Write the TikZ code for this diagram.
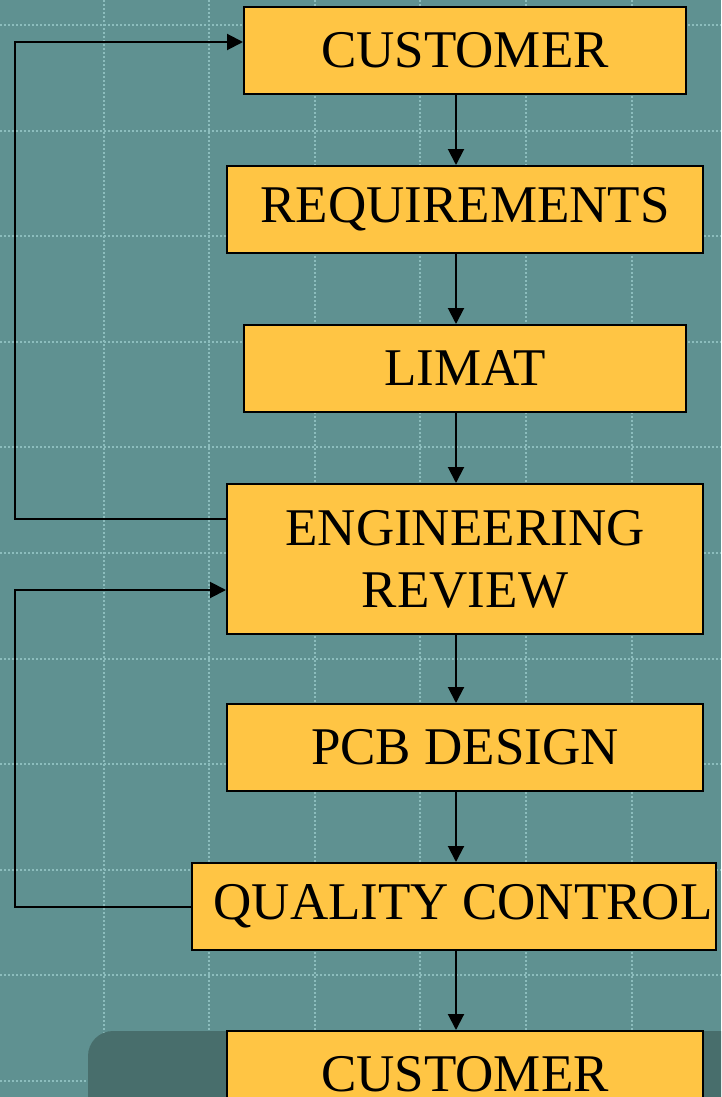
\documentclass[tikz,border=0pt]{standalone}
\usepackage{fontspec}
\setmainfont{Liberation Serif}
\usetikzlibrary{arrows.meta}
\definecolor{bgc}{HTML}{5F9191}
\definecolor{darkc}{HTML}{486E6C}
\definecolor{gridc}{HTML}{8CBDBD}
\definecolor{boxc}{HTML}{FFC544}
\tikzset{
  box/.style={draw=black, line width=2pt, fill=boxc, inner sep=0pt, align=center,
    font=\fontsize{53}{62}\selectfont},
  arr/.style={draw=black, line width=2pt, -{Triangle[length=16pt,width=16pt]}},
  gridline/.style={draw=gridc, line width=1.5pt, dash pattern=on 2pt off 2pt},
}
\begin{document}
\begin{tikzpicture}[x=1pt,y=-1pt]
\useasboundingbox (0,0) rectangle (721,1097);
\begin{scope}
\clip (0,0) rectangle (721,1097);
\fill[bgc] (0,0) rectangle (721,1097);
\foreach \x in {-2,104,209,315,420,526,632}
  \draw[gridline] (\x,0) -- (\x,1097);
\foreach \y in {25,131,236,342,447,553,659,764,870,975,1081}
  \draw[gridline] (0,\y) -- (721,\y);
\fill[darkc, rounded corners=25pt] (88,1031) rectangle (760,1140);
\node[box, minimum width=442pt, minimum height=87pt] (cust1) at (465,50.5) {CUSTOMER};
\node[box, minimum width=476pt, minimum height=87pt] (req) at (465,209.5) {REQUIREMENTS};
\node[box, minimum width=442pt, minimum height=87pt] (limat) at (465,368.5) {LIMAT};
\node[box, minimum width=476pt, minimum height=150pt] (eng) at (465,559) {ENGINEERING\\REVIEW};
\node[box, minimum width=476pt, minimum height=87pt] (pcb) at (465,747.5) {PCB DESIGN};
\node[box, minimum width=524pt, minimum height=87pt] (qc) at (454,906.5) {\hspace*{18pt}QUALITY CONTROL};
\node[box, minimum width=476pt, minimum height=87pt] (cust2) at (465,1074.5) {CUSTOMER};
\coordinate (ax) at (456,0);
\coordinate (L) at (15,0);
\draw[arr] (cust1.south -| ax) -- (req.north -| ax);
\draw[arr] (req.south -| ax) -- (limat.north -| ax);
\draw[arr] (limat.south -| ax) -- (eng.north -| ax);
\draw[arr] (eng.south -| ax) -- (pcb.north -| ax);
\draw[arr] (pcb.south -| ax) -- (qc.north -| ax);
\draw[arr] (qc.south -| ax) -- (cust2.north -| ax);
\coordinate (A) at ([yshift=40pt]eng.west);
\coordinate (B) at ([yshift=8.5pt]cust1.west);
\draw[arr] (A) -- (A -| L) -- (L |- B) -- (B);
\coordinate (C) at (qc.west);
\coordinate (D) at ([yshift=-31pt]eng.west);
\draw[arr] (C) -- (C -| L) -- (L |- D) -- (D);
\end{scope}
\end{tikzpicture}
\end{document}
